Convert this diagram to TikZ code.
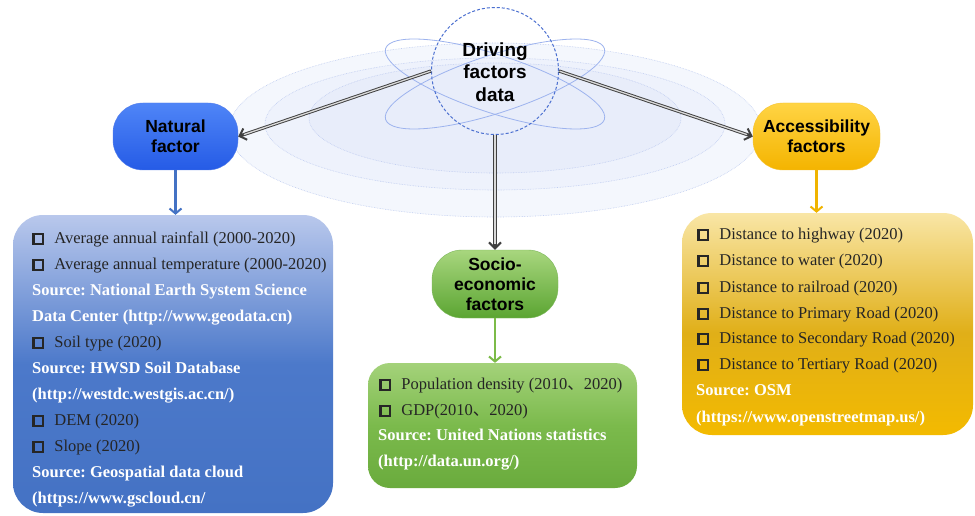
\documentclass[tikz,border=0pt]{standalone}
\usepackage{fontspec}
\setmainfont{Liberation Serif}
\newfontfamily\lblfont{Liberation Sans}
\newfontfamily\cjk{Noto Sans CJK SC}
\usetikzlibrary{arrows.meta}
\frenchspacing

% palette
\definecolor{ringA}{HTML}{F4F7FD}
\definecolor{ringB}{HTML}{EEF2FC}
\definecolor{ringC}{HTML}{E8EDFA}
\definecolor{ringLine}{HTML}{BCCAF0}
\definecolor{orbit}{HTML}{9DB3EE}
\definecolor{hub}{HTML}{4A6FD0}
\definecolor{natTop}{HTML}{4F85F7}
\definecolor{natBot}{HTML}{255BE6}
\definecolor{socTop}{HTML}{A8D67E}
\definecolor{socBot}{HTML}{5BA532}
\definecolor{accTop}{HTML}{FFD444}
\definecolor{accBot}{HTML}{F4B400}
\definecolor{natArrow}{HTML}{4472C4}
\definecolor{socArrow}{HTML}{7CBB48}
\definecolor{accArrow}{HTML}{F0B400}
\definecolor{nbT}{HTML}{B9C8EC}
\definecolor{nbM}{HTML}{4C79CA}
\definecolor{nbB}{HTML}{4472C4}
\definecolor{gbT}{HTML}{A4D27A}
\definecolor{gbM}{HTML}{7BBA4C}
\definecolor{gbB}{HTML}{6AAB3D}
\definecolor{ybT}{HTML}{F9E6A6}
\definecolor{ybM}{HTML}{E0AF18}
\definecolor{ybB}{HTML}{F3BA00}
\definecolor{itemText}{HTML}{252525}

% vertical fills of the three data panels
\pgfdeclareverticalshading{natfill}{100bp}{color(0bp)=(nbB); color(25bp)=(nbB); color(50bp)=(nbM); color(75bp)=(nbT); color(100bp)=(nbT)}
\pgfdeclareverticalshading{socfill}{100bp}{color(0bp)=(gbB); color(25bp)=(gbB); color(50bp)=(gbM); color(75bp)=(gbT); color(100bp)=(gbT)}
\pgfdeclareverticalshading{accfill}{100bp}{color(0bp)=(ybB); color(25bp)=(ybB); color(48bp)=(ybM); color(75bp)=(ybT); color(100bp)=(ybT)}

% hollow check box in front of each item
\newcommand\chk{{\setlength\fboxsep{0pt}\setlength\fboxrule{2.3pt}\color{black!85}\fbox{\rule{0pt}{7.6pt}\hspace{7.6pt}}}\hspace{10pt}}
\newcommand\cjkcomma{{\cjk 、}}

\tikzset{
  factor/.style={rectangle, rounded corners=30pt, minimum width=126pt, minimum height=67pt,
    align=center, inner sep=2pt, font=\lblfont\bfseries\fontsize{17.5}{20}\selectfont, text=black},
  panel/.style={rectangle, inner sep=0pt},
  itm/.style={anchor=base west, inner sep=0pt, text=itemText, font=\fontsize{16.5}{20}\selectfont},
  src/.style={anchor=base west, inner sep=0pt, text=white, font=\bfseries\fontsize{16.5}{20}\selectfont},
  link/.style={line width=3.2pt, draw=black!75, -{Straight Barb[length=6pt,width=12pt,line width=2pt]}},
  linkcore/.style={line width=1.3pt, draw=gray!30, shorten >=6pt, shorten <=0.5pt},
  feed/.style={line width=2.2pt, -{Straight Barb[length=5pt,width=12pt,line width=2pt]}}
}

\begin{document}
\begin{tikzpicture}[x=1pt,y=-1pt]
\useasboundingbox (0,0) rectangle (975,516);
\fill[white] (0,0) rectangle (975,516);

% halo rings behind the hub
\filldraw[fill=ringA, draw=ringLine, line width=0.6pt, densely dotted] (495,130) ellipse [x radius=266pt, y radius=87pt];
\filldraw[fill=ringB, draw=ringLine, line width=0.6pt, densely dotted] (495,124) ellipse [x radius=230pt, y radius=66pt];
\filldraw[fill=ringC, draw=ringLine, line width=0.6pt, densely dotted] (495,118) ellipse [x radius=186pt, y radius=55pt];

% orbits
\draw[orbit, line width=0.8pt, rotate around={-18:(495,84)}] (495,84) ellipse [x radius=115pt, y radius=29pt];
\draw[orbit, line width=0.8pt, rotate around={18:(495,84)}] (495,84) ellipse [x radius=115pt, y radius=29pt];

% hub
\node[circle, draw=hub, densely dashed, line width=1pt, minimum size=127pt, inner sep=0pt] (hub) at (495,71) {};
\node[align=center, font=\lblfont\bfseries\fontsize{19}{22.5}\selectfont, text=black] (hubtext) at (495,72) {Driving\\factors\\data};

% factor nodes
\node[factor, top color=natTop, bottom color=natBot, draw=natBot!80!white, minimum width=125pt] (nat) at (175.5,136.5) {Natural\\factor};
\node[factor, top color=accTop, bottom color=accBot, draw=accBot!80!white, minimum width=127pt] (acc) at (816.5,136.5) {Accessibility\\factors};
\node[factor, top color=socTop, bottom color=socBot, draw=socBot!80!white, minimum height=68pt] (soc) at (495,284) {Socio-\\economic\\factors};

% links from the hub
\draw[link] (hub.west) -- (nat.east);
\draw[linkcore] (hub.west) -- (nat.east);
\draw[link] (hub.east) -- (acc.west);
\draw[linkcore] (hub.east) -- (acc.west);
\draw[link] (hub.south) -- (soc.north);
\draw[linkcore] (hub.south) -- (soc.north);

% data panels
\node[panel, shading=natfill, rounded corners=30pt, minimum width=320pt, minimum height=298pt] (natbox) at (173,364) {};
\node[panel, shading=socfill, rounded corners=22pt, minimum width=269pt, minimum height=125pt] (socbox) at (502.5,425.5) {};
\node[panel, shading=accfill, rounded corners=30pt, minimum width=291pt, minimum height=222pt] (accbox) at (827.5,324) {};

\draw[feed, natArrow] (nat.south) -- (nat.south |- natbox.north);
\draw[feed, socArrow] (soc.south) -- (soc.south |- socbox.north);
\draw[feed, accArrow] (acc.south) -- (acc.south |- accbox.north);

% natural factor data
\node[itm] (n1) at (32,243) {\chk Average annual rainfall (2000-2020)};
\node[itm] (n2) at (32,269) {\chk Average annual temperature (2000-2020)};
\node[src] (n3) at (32,295) {Source: National Earth System Science};
\node[src] (n4) at (32,321) {Data Center (http://www.geodata.cn)};
\node[itm] (n5) at (32,347) {\chk Soil type (2020)};
\node[src] (n6) at (32,373) {Source: HWSD Soil Database};
\node[src] (n7) at (32,399) {(http://westdc.westgis.ac.cn/)};
\node[itm] (n8) at (32,425) {\chk DEM (2020)};
\node[itm] (n9) at (32,451) {\chk Slope (2020)};
\node[src] (n10) at (32,477) {Source: Geospatial data cloud};
\node[src] (n11) at (32,503) {(https://www.gscloud.cn/};

% socio-economic data
\node[itm] (s1) at (379,389) {\chk Population density (2010\cjkcomma 2020)};
\node[itm] (s2) at (379,415) {\chk GDP(2010\cjkcomma 2020)};
\node[src] (s3) at (378,440) {Source: United Nations statistics};
\node[src] (s4) at (378,466) {(http://data.un.org/)};

% accessibility data
\node[itm] (a1) at (697,239) {\chk Distance to highway (2020)};
\node[itm] (a2) at (697,265) {\chk Distance to water (2020)};
\node[itm] (a3) at (697,292) {\chk Distance to railroad (2020)};
\node[itm] (a4) at (697,318) {\chk Distance to Primary Road (2020)};
\node[itm] (a5) at (697,343) {\chk Distance to Secondary Road (2020)};
\node[itm] (a6) at (697,369) {\chk Distance to Tertiary Road (2020)};
\node[src] (a7) at (696,395) {Source: OSM};
\node[src] (a8) at (696,422) {(https://www.openstreetmap.us/)};
\end{tikzpicture}
\end{document}
